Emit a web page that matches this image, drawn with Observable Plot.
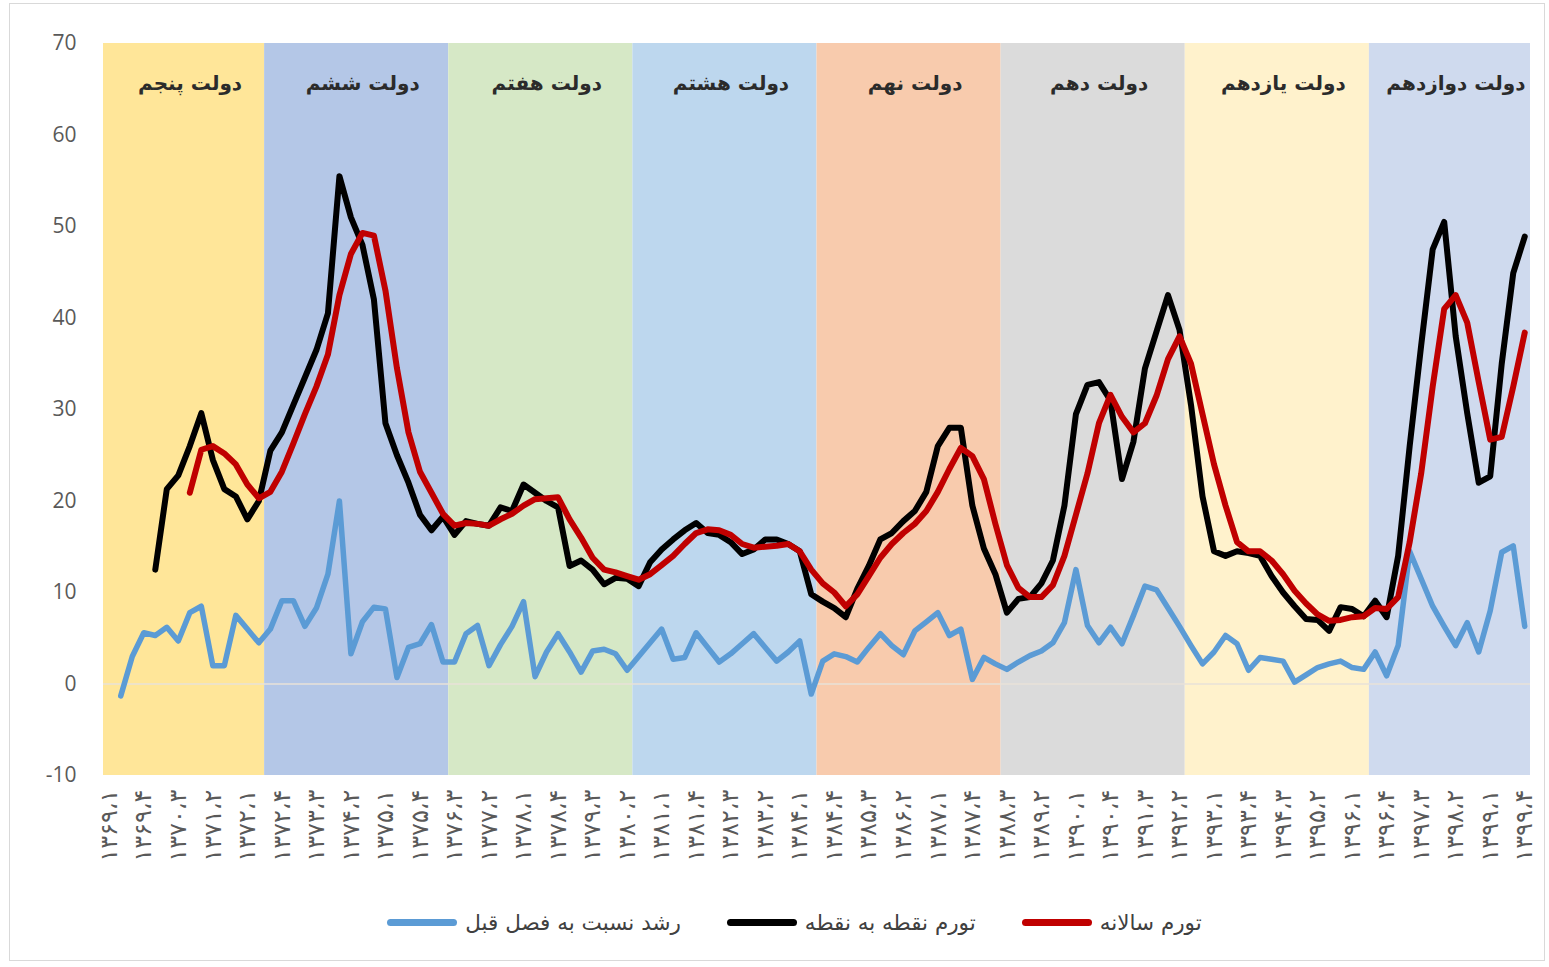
<!DOCTYPE html>
<html>
<head>
<meta charset="utf-8">
<script src="https://cdn.jsdelivr.net/npm/d3@7"></script>
<script src="https://cdn.jsdelivr.net/npm/@observablehq/plot@0.6"></script>
<style>
  html, body { margin: 0; padding: 0; background: #ffffff; }
  #frame { position: absolute; left: 9px; top: 3px; width: 1536px; height: 958px; border: 1px solid #d9d9d9; box-sizing: border-box; }
  #chart { position: absolute; left: 0; top: 0; }
  #chart svg { background: transparent; }
  #chart g[aria-label^="y-axis"] text { font-family: "Open Sans", "Noto Sans", sans-serif; font-size: 21px; fill: #595959; }
  #chart g[aria-label^="x-axis"] text { font-family: "DejaVu Sans", sans-serif; font-size: 24px; fill: #595959; }
  #legend { position: absolute; left: 20px; top: 892px; width: 1549px; height: 60px; display: flex; justify-content: center; align-items: center; gap: 46px; font-family: "DejaVu Sans", sans-serif; font-size: 21.5px; color: #404040; }
  .item { display: flex; align-items: center; }
  .sw { width: 70px; height: 7px; border-radius: 3.5px; margin-right: 8px; }
</style>
</head>
<body>
<div id="frame"></div>
<div id="chart"></div>
<div id="legend"></div>
<script>
// ---- categories (quarters 1369Q1 .. 1399Q4, Persian digits) ----
const faDigits = "۰۱۲۳۴۵۶۷۸۹";
const toFa = s => String(s).replace(/\d/g, d => faDigits[+d]);
const years = d3.range(1369, 1400);
const quarters = [1, 2, 3, 4];
const categories = [];
for (const y of years) for (const q of quarters) categories.push(toFa(y) + "،" + toFa(q));

// ---- x tick labels (every third quarter) ----
const tickLabels = [
  "۱۳۶۹،۱","۱۳۶۹،۴","۱۳۷۰،۳","۱۳۷۱،۲","۱۳۷۲،۱","۱۳۷۲،۴","۱۳۷۳،۳","۱۳۷۴،۲","۱۳۷۵،۱","۱۳۷۵،۴",
  "۱۳۷۶،۳","۱۳۷۷،۲","۱۳۷۸،۱","۱۳۷۸،۴","۱۳۷۹،۳","۱۳۸۰،۲","۱۳۸۱،۱","۱۳۸۱،۴","۱۳۸۲،۳","۱۳۸۳،۲",
  "۱۳۸۴،۱","۱۳۸۴،۴","۱۳۸۵،۳","۱۳۸۶،۲","۱۳۸۷،۱","۱۳۸۷،۴","۱۳۸۸،۳","۱۳۸۹،۲","۱۳۹۰،۱","۱۳۹۰،۴",
  "۱۳۹۱،۳","۱۳۹۲،۲","۱۳۹۳،۱","۱۳۹۳،۴","۱۳۹۴،۳","۱۳۹۵،۲","۱۳۹۶،۱","۱۳۹۶،۴","۱۳۹۷،۳","۱۳۹۸،۲",
  "۱۳۹۹،۱","۱۳۹۹،۴"
];
const yTicks = [-10, 0, 10, 20, 30, 40, 50, 60, 70];

// ---- governments ----
const govNames = ["دولت پنجم","دولت ششم","دولت هفتم","دولت هشتم","دولت نهم","دولت دهم","دولت یازدهم","دولت دوازدهم"];
const govFirst = ["۱۳۶۹،۱","۱۳۷۲،۳","۱۳۷۶،۳","۱۳۸۰،۳","۱۳۸۴،۳","۱۳۸۸،۳","۱۳۹۲،۳","۱۳۹۶،۳"];
const govLast  = ["۱۳۷۲،۲","۱۳۷۶،۲","۱۳۸۰،۲","۱۳۸۴،۲","۱۳۸۸،۲","۱۳۹۲،۲","۱۳۹۶،۲","۱۳۹۹،۴"];
const govColors = ["#FFE699","#B4C7E7","#D6E8C6","#BDD7EE","#F8CBAD","#DBDBDB","#FFF2CC","#CFDAEE"];

// ---- series ----
const seriesNames = ["رشد نسبت به فصل قبل", "تورم نقطه به نقطه", "تورم سالانه"];
const seriesColors = ["#5B9BD5", "#000000", "#C00000"];

const growthQoQ = [
  null, -1.3, 3.0, 5.6, 5.3, 6.2, 4.7, 7.8, 8.5, 2.0,
  2.0, 7.5, 6.0, 4.5, 6.0, 9.1, 9.1, 6.3, 8.3, 12.0,
  20.0, 3.3, 6.8, 8.4, 8.2, 0.7, 4.0, 4.4, 6.5, 2.4,
  2.4, 5.5, 6.4, 2.0, 4.3, 6.3, 9.0, 0.8, 3.5, 5.5,
  3.5, 1.3, 3.6, 3.8, 3.3, 1.5, 3.0, 4.5, 6.0, 2.7,
  2.9, 5.6, 4.0, 2.4, 3.3, 4.4, 5.5, 4.0, 2.5, 3.5,
  4.7, -1.1, 2.5, 3.3, 3.0, 2.4, 4.0, 5.5, 4.2, 3.2,
  5.8, 6.8, 7.8, 5.3, 6.0, 0.5, 2.9, 2.2, 1.6, 2.4,
  3.1, 3.6, 4.5, 6.7, 12.5, 6.4, 4.5, 6.2, 4.4, 7.5,
  10.7, 10.3, 8.3, 6.3, 4.2, 2.2, 3.5, 5.3, 4.4, 1.5,
  2.9, 2.7, 2.5, 0.2, 1.0, 1.8, 2.2, 2.5, 1.8, 1.6,
  3.5, 0.9, 4.2, 14.5, 11.5, 8.5, 6.3, 4.2, 6.7, 3.5,
  8.0, 14.4, 15.1, 6.3
];

const pointToPoint = [
  null, null, null, null, 12.5, 21.3, 22.8, 26.0, 29.6, 24.5,
  21.3, 20.5, 18.0, 20.0, 25.5, 27.5, 30.5, 33.5, 36.5, 40.5,
  55.5, 51.0, 48.0, 42.0, 28.5, 25.0, 22.0, 18.5, 16.8, 18.3,
  16.3, 17.8, 17.5, 17.3, 19.3, 18.9, 21.8, 20.9, 20.0, 19.3,
  12.9, 13.5, 12.5, 10.9, 11.6, 11.5, 10.7, 13.3, 14.7, 15.8,
  16.8, 17.6, 16.5, 16.3, 15.5, 14.2, 14.7, 15.8, 15.8, 15.3,
  14.5, 9.8, 9.0, 8.3, 7.3, 10.4, 12.9, 15.8, 16.5, 17.8,
  18.9, 21.0, 26.0, 28.0, 28.0, 19.5, 14.8, 12.0, 7.8, 9.3,
  9.5, 11.0, 13.5, 19.5, 29.5, 32.7, 33.0, 31.0, 22.4, 26.5,
  34.5, 38.5, 42.5, 38.7, 30.5, 20.5, 14.5, 14.0, 14.5, 14.3,
  14.0, 11.8, 10.0, 8.5, 7.1, 7.0, 5.8, 8.4, 8.2, 7.4,
  9.1, 7.3, 14.0, 26.0, 37.0, 47.5, 50.5, 38.0, 29.6, 22.0,
  22.7, 35.0, 44.9, 48.9
];

const annual = [
  null, null, null, null, null, null, null, 20.9, 25.6, 26.0,
  25.2, 24.0, 21.8, 20.3, 21.0, 23.2, 26.3, 29.5, 32.5, 36.0,
  42.5, 47.0, 49.3, 49.0, 43.0, 34.5, 27.5, 23.2, 20.9, 18.6,
  17.3, 17.6, 17.5, 17.3, 18.0, 18.6, 19.5, 20.2, 20.3, 20.4,
  18.0, 16.0, 13.8, 12.5, 12.2, 11.8, 11.4, 12.0, 13.0, 14.0,
  15.3, 16.5, 16.9, 16.8, 16.3, 15.3, 14.9, 15.0, 15.1, 15.3,
  14.5, 12.5, 11.0, 10.0, 8.5, 9.8, 11.8, 13.8, 15.3, 16.5,
  17.5, 18.9, 21.0, 23.5, 25.8, 24.9, 22.4, 17.5, 13.0, 10.5,
  9.5, 9.5, 10.8, 14.0, 18.5, 23.0, 28.5, 31.6, 29.2, 27.5,
  28.5, 31.5, 35.5, 38.0, 35.0, 29.5, 24.0, 19.5, 15.5, 14.5,
  14.5, 13.5, 12.0, 10.2, 8.8, 7.6, 6.9, 7.0, 7.3, 7.4,
  8.3, 8.2, 9.5, 15.5, 23.0, 32.5, 41.0, 42.5, 39.5, 33.0,
  26.7, 27.0, 32.5, 38.4
];

// ---- build tables ----
const idx = c => categories.indexOf(c);
const govs = govNames.map((name, k) => ({
  name, color: govColors[k], a: idx(govFirst[k]), b: idx(govLast[k])
}));
const toRows = (vals, s) => vals.map((v, i) => ({i, v, s})).filter(d => d.v != null);
const allSeries = [growthQoQ, pointToPoint, annual];
const tickIdx = tickLabels.map(idx);

const chart = Plot.plot({
  width: 1549,
  height: 880,
  marginLeft: 103,
  marginRight: 19,
  marginTop: 43,
  marginBottom: 105,
  x: {type: "linear", domain: [-0.5, categories.length - 0.5], ticks: tickIdx, tickFormat: i => categories[i],
      tickRotate: -90, tickSize: 0, tickPadding: 14, label: null},
  y: {domain: [-10, 70], ticks: yTicks, tickFormat: d => String(d), tickSize: 0, tickPadding: 27, label: null},
  style: {background: "transparent", overflow: "visible"},
  marks: [
    Plot.rect(govs, {x1: d => d.a - 0.5, x2: d => d.b + 0.5, y1: -10, y2: 70, fill: d => d.color}),
    Plot.ruleY([0], {stroke: "#e9e2d8", strokeWidth: 1.5}),
    Plot.text(govs, {x: d => (d.a + d.b) / 2, y: 65.6, text: "name", dx: 6, fontSize: 20, fontWeight: 600,
      fill: "#2b2b2b", fontFamily: "DejaVu Sans"}),
    ...allSeries.map((vals, k) => Plot.line(toRows(vals, k), {
      x: "i", y: "v", stroke: seriesColors[k], strokeWidth: k === 0 ? 5.5 : 6,
      strokeLinejoin: "round", strokeLinecap: "round"
    }))
  ]
});
document.getElementById("chart").appendChild(chart);

// ---- legend ----
const legend = document.getElementById("legend");
seriesNames.forEach((name, k) => {
  const item = document.createElement("div");
  item.className = "item";
  const sw = document.createElement("div");
  sw.className = "sw";
  sw.style.background = seriesColors[k];
  const label = document.createElement("span");
  label.textContent = name;
  item.appendChild(sw);
  item.appendChild(label);
  legend.appendChild(item);
});
</script>
</body>
</html>
